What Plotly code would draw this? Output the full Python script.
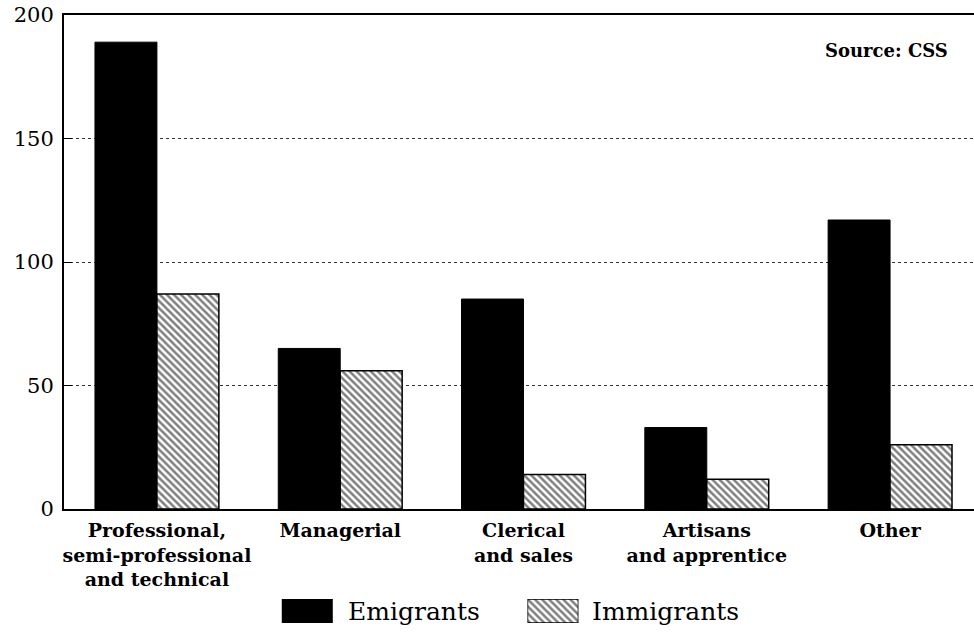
import plotly.graph_objects as go

categories = [
    "Professional,<br>semi-professional<br>and technical",
    "Managerial",
    "Clerical<br>and sales",
    "Artisans<br>and apprentice",
    "Other",
]
emigrants = [189, 65, 85, 33, 117]
immigrants = [87, 56, 14, 12, 26]
series_names = ["Emigrants", "Immigrants"]
y_ticks = [0, 50, 100, 150, 200]
source_text = "Source: CSS"

SERIF = "DejaVu Serif"
HATCH = dict(shape="\\", fgcolor="black", bgcolor="white", size=5, solidity=0.5)

fig = go.Figure()
fig.add_trace(go.Bar(
    x=categories, y=emigrants, name=series_names[0],
    marker=dict(color="black", line=dict(color="black", width=1)),
    showlegend=False,
))
fig.add_trace(go.Bar(
    x=categories, y=immigrants, name=series_names[1],
    marker=dict(color="white", line=dict(color="black", width=1.5), pattern=HATCH),
    showlegend=False,
))

# legend swatches drawn as bars on tiny inset axes
fig.add_trace(go.Bar(x=[0], y=[1], width=[1], xaxis="x2", yaxis="y2",
                     marker=dict(color="black", line=dict(color="black", width=1)),
                     showlegend=False, hoverinfo="skip"))
fig.add_trace(go.Bar(x=[0], y=[1], width=[1], xaxis="x3", yaxis="y3",
                     marker=dict(color="white", line=dict(color="black", width=1.5),
                                 pattern=HATCH),
                     showlegend=False, hoverinfo="skip"))

hidden = dict(visible=False, fixedrange=True)

fig.update_layout(
    width=974, height=633,
    margin=dict(l=64, r=0, t=15, b=10, autoexpand=False),
    paper_bgcolor="white", plot_bgcolor="white",
    barmode="group", bargap=0.324, bargroupgap=0,
    font=dict(family=SERIF, color="black"),
    xaxis=dict(
        range=[-0.507, 4.458],
        showline=True, linecolor="black", linewidth=2, mirror=True,
        showgrid=False, ticks="",
        tickfont=dict(family=SERIF, size=19, weight="bold", color="black"),
        ticklabelstandoff=3,
        automargin=False,
    ),
    yaxis=dict(
        domain=[0.1875, 1],
        range=[0, 200],
        tickvals=y_ticks,
        showline=True, linecolor="black", linewidth=2,
        showgrid=True, gridcolor="#333", gridwidth=1, griddash="dot",
        zeroline=False,
        ticks="inside", ticklen=8, tickcolor="black",
        tickfont=dict(family=SERIF, size=21, color="black"),
        ticklabelstandoff=4,
        ticklabeloverflow="allow",
        automargin=False,
    ),
    xaxis2=dict(domain=[0.2393, 0.2953], range=[-0.5, 0.5], anchor="y2", **hidden),
    yaxis2=dict(domain=[0, 0.0395], range=[0, 1], anchor="x2", **hidden),
    xaxis3=dict(domain=[0.5093, 0.5653], range=[-0.5, 0.5], anchor="y3", **hidden),
    yaxis3=dict(domain=[0, 0.0395], range=[0, 1], anchor="x3", **hidden),
    annotations=[
        dict(text=source_text, xref="paper", yref="paper", x=0.9034, y=0.9424,
             showarrow=False, xanchor="center", yanchor="middle",
             font=dict(family=SERIF, size=18, weight="bold", color="black")),
        dict(text=series_names[0], xref="paper", yref="paper", x=0.3095, y=0.0197,
             showarrow=False, xanchor="left", yanchor="middle",
             font=dict(family=SERIF, size=25, color="black")),
        dict(text=series_names[1], xref="paper", yref="paper", x=0.5785, y=0.0197,
             showarrow=False, xanchor="left", yanchor="middle",
             font=dict(family=SERIF, size=25, color="black")),
    ],
)

fig.write_html("out.html",
               config={"displayModeBar": False},
               post_script="document.body.style.margin='0';document.body.style.padding='0';")
